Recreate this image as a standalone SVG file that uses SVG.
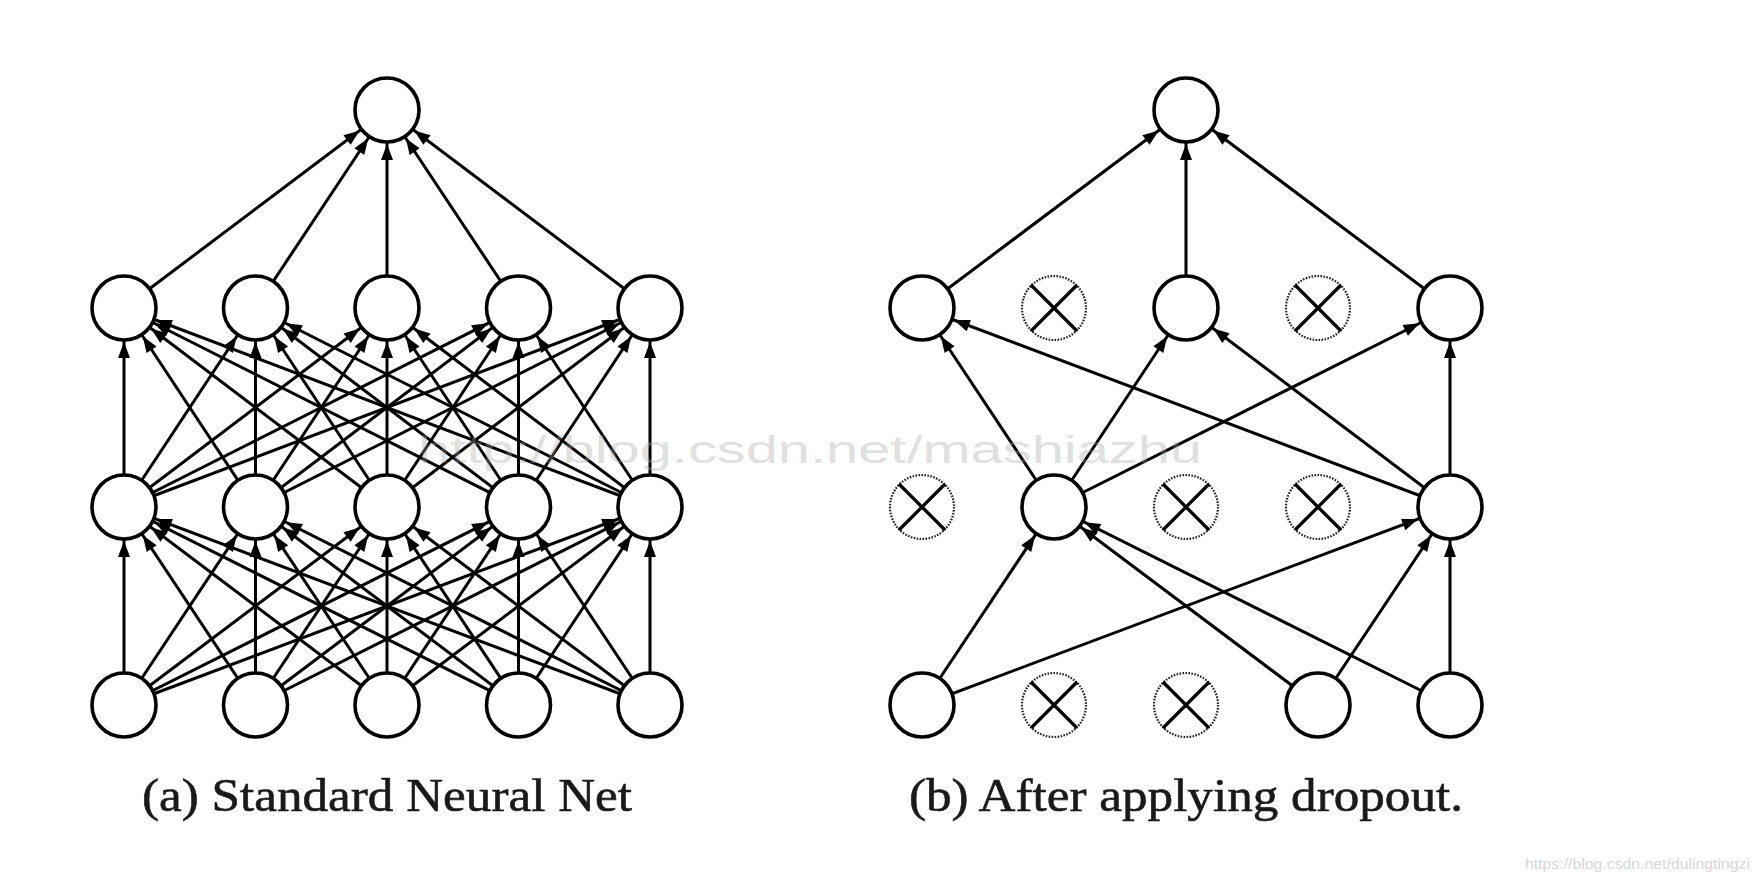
<svg xmlns="http://www.w3.org/2000/svg" width="1760" height="882" viewBox="0 0 1760 882">
<style>
.n{fill:#fff;stroke:#000;stroke-width:3.6}
.d{fill:#fff;stroke:#222;stroke-width:2.2;stroke-dasharray:1.6 1.4}
.x{stroke:#000;stroke-width:3.3}
.e line{stroke:#000;stroke-width:3;marker-end:url(#ah)}
.cap{font-family:"Liberation Serif","DejaVu Serif",serif;font-size:47px;fill:#1a1a1a;stroke:#1a1a1a;stroke-width:0.6}
.wm{font-family:"Liberation Sans Narrow","Liberation Sans",sans-serif;font-size:38px;fill:#a8a8a8;opacity:0.35}
.wm2{font-family:"Liberation Sans",Arial,sans-serif;font-size:15px;fill:#d8d8d8}
</style>
<defs>
<marker id="ah" markerUnits="userSpaceOnUse" markerWidth="16" markerHeight="12" refX="50" refY="6" orient="auto" overflow="visible"><path d="M0,0 L16,6 L0,12 z" fill="#000"/></marker>
</defs>
<rect width="1760" height="882" fill="#fff"/>
<g id="connectors" class="e">
<line x1="124" y1="705" x2="124" y2="507"/><line x1="124" y1="705" x2="255.5" y2="507"/><line x1="124" y1="705" x2="387" y2="507"/><line x1="124" y1="705" x2="518.5" y2="507"/><line x1="124" y1="705" x2="650" y2="507"/>
<line x1="255.5" y1="705" x2="124" y2="507"/><line x1="255.5" y1="705" x2="255.5" y2="507"/><line x1="255.5" y1="705" x2="387" y2="507"/><line x1="255.5" y1="705" x2="518.5" y2="507"/><line x1="255.5" y1="705" x2="650" y2="507"/>
<line x1="387" y1="705" x2="124" y2="507"/><line x1="387" y1="705" x2="255.5" y2="507"/><line x1="387" y1="705" x2="387" y2="507"/><line x1="387" y1="705" x2="518.5" y2="507"/><line x1="387" y1="705" x2="650" y2="507"/>
<line x1="518.5" y1="705" x2="124" y2="507"/><line x1="518.5" y1="705" x2="255.5" y2="507"/><line x1="518.5" y1="705" x2="387" y2="507"/><line x1="518.5" y1="705" x2="518.5" y2="507"/><line x1="518.5" y1="705" x2="650" y2="507"/>
<line x1="650" y1="705" x2="124" y2="507"/><line x1="650" y1="705" x2="255.5" y2="507"/><line x1="650" y1="705" x2="387" y2="507"/><line x1="650" y1="705" x2="518.5" y2="507"/><line x1="650" y1="705" x2="650" y2="507"/>
<line x1="124" y1="507" x2="124" y2="308"/><line x1="124" y1="507" x2="255.5" y2="308"/><line x1="124" y1="507" x2="387" y2="308"/><line x1="124" y1="507" x2="518.5" y2="308"/><line x1="124" y1="507" x2="650" y2="308"/>
<line x1="255.5" y1="507" x2="124" y2="308"/><line x1="255.5" y1="507" x2="255.5" y2="308"/><line x1="255.5" y1="507" x2="387" y2="308"/><line x1="255.5" y1="507" x2="518.5" y2="308"/><line x1="255.5" y1="507" x2="650" y2="308"/>
<line x1="387" y1="507" x2="124" y2="308"/><line x1="387" y1="507" x2="255.5" y2="308"/><line x1="387" y1="507" x2="387" y2="308"/><line x1="387" y1="507" x2="518.5" y2="308"/><line x1="387" y1="507" x2="650" y2="308"/>
<line x1="518.5" y1="507" x2="124" y2="308"/><line x1="518.5" y1="507" x2="255.5" y2="308"/><line x1="518.5" y1="507" x2="387" y2="308"/><line x1="518.5" y1="507" x2="518.5" y2="308"/><line x1="518.5" y1="507" x2="650" y2="308"/>
<line x1="650" y1="507" x2="124" y2="308"/><line x1="650" y1="507" x2="255.5" y2="308"/><line x1="650" y1="507" x2="387" y2="308"/><line x1="650" y1="507" x2="518.5" y2="308"/><line x1="650" y1="507" x2="650" y2="308"/>
<line x1="124" y1="308" x2="387" y2="110"/><line x1="255.5" y1="308" x2="387" y2="110"/><line x1="387" y1="308" x2="387" y2="110"/><line x1="518.5" y1="308" x2="387" y2="110"/><line x1="650" y1="308" x2="387" y2="110"/>
<line x1="922" y1="308" x2="1186" y2="110"/><line x1="1186" y1="308" x2="1186" y2="110"/><line x1="1450" y1="308" x2="1186" y2="110"/>
<line x1="1054" y1="507" x2="922" y2="308"/><line x1="1054" y1="507" x2="1186" y2="308"/><line x1="1054" y1="507" x2="1450" y2="308"/>
<line x1="1450" y1="507" x2="922" y2="308"/><line x1="1450" y1="507" x2="1186" y2="308"/><line x1="1450" y1="507" x2="1450" y2="308"/>
<line x1="922" y1="705" x2="1054" y2="507"/><line x1="922" y1="705" x2="1450" y2="507"/>
<line x1="1318" y1="705" x2="1054" y2="507"/><line x1="1318" y1="705" x2="1450" y2="507"/>
<line x1="1450" y1="705" x2="1054" y2="507"/><line x1="1450" y1="705" x2="1450" y2="507"/>
</g>
<g id="a-out"><circle class="n" cx="387" cy="110" r="32"/></g>
<g id="a-h2-1"><circle class="n" cx="124" cy="308" r="32"/></g>
<g id="a-h2-2"><circle class="n" cx="255.5" cy="308" r="32"/></g>
<g id="a-h2-3"><circle class="n" cx="387" cy="308" r="32"/></g>
<g id="a-h2-4"><circle class="n" cx="518.5" cy="308" r="32"/></g>
<g id="a-h2-5"><circle class="n" cx="650" cy="308" r="32"/></g>
<g id="a-h1-1"><circle class="n" cx="124" cy="507" r="32"/></g>
<g id="a-h1-2"><circle class="n" cx="255.5" cy="507" r="32"/></g>
<g id="a-h1-3"><circle class="n" cx="387" cy="507" r="32"/></g>
<g id="a-h1-4"><circle class="n" cx="518.5" cy="507" r="32"/></g>
<g id="a-h1-5"><circle class="n" cx="650" cy="507" r="32"/></g>
<g id="a-in-1"><circle class="n" cx="124" cy="705" r="32"/></g>
<g id="a-in-2"><circle class="n" cx="255.5" cy="705" r="32"/></g>
<g id="a-in-3"><circle class="n" cx="387" cy="705" r="32"/></g>
<g id="a-in-4"><circle class="n" cx="518.5" cy="705" r="32"/></g>
<g id="a-in-5"><circle class="n" cx="650" cy="705" r="32"/></g>
<g id="b-out"><circle class="n" cx="1186" cy="110" r="32"/></g>
<g id="b-h2-1"><circle class="n" cx="922" cy="308" r="32"/></g>
<g id="b-h2-2"><circle class="d" cx="1054" cy="308" r="32"/><path class="x" d="M1031,285 L1077,331 M1077,285 L1031,331"/></g>
<g id="b-h2-3"><circle class="n" cx="1186" cy="308" r="32"/></g>
<g id="b-h2-4"><circle class="d" cx="1318" cy="308" r="32"/><path class="x" d="M1295,285 L1341,331 M1341,285 L1295,331"/></g>
<g id="b-h2-5"><circle class="n" cx="1450" cy="308" r="32"/></g>
<g id="b-h1-1"><circle class="d" cx="922" cy="507" r="32"/><path class="x" d="M899,484 L945,530 M945,484 L899,530"/></g>
<g id="b-h1-2"><circle class="n" cx="1054" cy="507" r="32"/></g>
<g id="b-h1-3"><circle class="d" cx="1186" cy="507" r="32"/><path class="x" d="M1163,484 L1209,530 M1209,484 L1163,530"/></g>
<g id="b-h1-4"><circle class="d" cx="1318" cy="507" r="32"/><path class="x" d="M1295,484 L1341,530 M1341,484 L1295,530"/></g>
<g id="b-h1-5"><circle class="n" cx="1450" cy="507" r="32"/></g>
<g id="b-in-1"><circle class="n" cx="922" cy="705" r="32"/></g>
<g id="b-in-2"><circle class="d" cx="1054" cy="705" r="32"/><path class="x" d="M1031,682 L1077,728 M1077,682 L1031,728"/></g>
<g id="b-in-3"><circle class="d" cx="1186" cy="705" r="32"/><path class="x" d="M1163,682 L1209,728 M1209,682 L1163,728"/></g>
<g id="b-in-4"><circle class="n" cx="1318" cy="705" r="32"/></g>
<g id="b-in-5"><circle class="n" cx="1450" cy="705" r="32"/></g>
<text class="wm" x="418" y="463" textLength="784" lengthAdjust="spacingAndGlyphs">http://blog.csdn.net/mashiazhu</text>
<text class="cap" x="142" y="811" textLength="490" lengthAdjust="spacingAndGlyphs">(a) Standard Neural Net</text>
<text class="cap" x="909" y="811" textLength="554" lengthAdjust="spacingAndGlyphs">(b) After applying dropout.</text>
<text class="wm2" x="1525" y="869" textLength="225" lengthAdjust="spacingAndGlyphs">https://blog.csdn.net/dulingtingzi</text>
</svg>
